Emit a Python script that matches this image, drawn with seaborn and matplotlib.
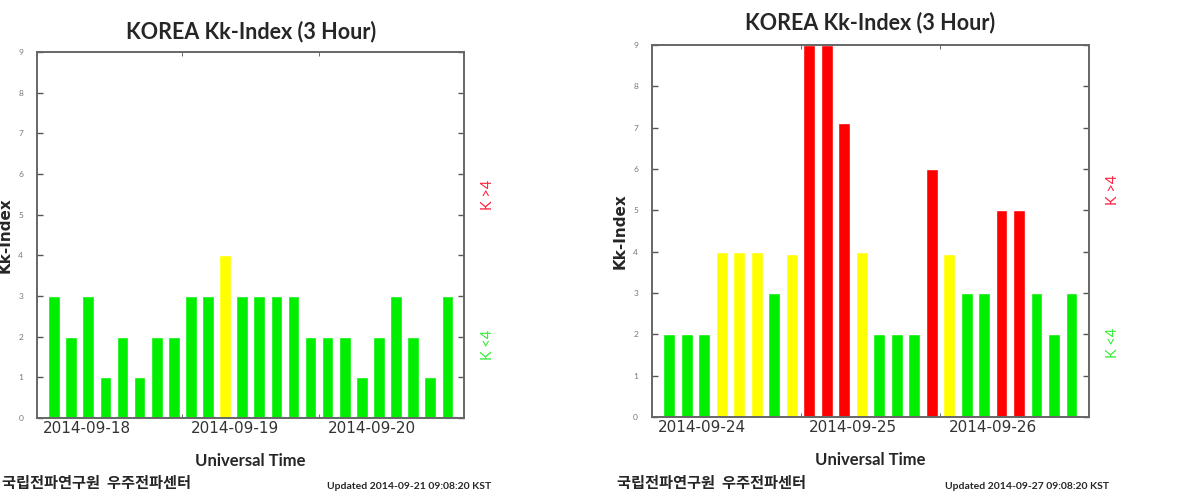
import numpy as np
import pandas as pd
import seaborn as sns
import matplotlib.pyplot as plt

# Kk-index values, 8 three-hour slots per day
kk_sep18_20 = [3, 2, 3, 1, 2, 1, 2, 2,
               3, 3, 4, 3, 3, 3, 3, 2,
               2, 2, 1, 2, 3, 2, 1, 3]
kk_sep24_26 = [2, 2, 2, 4, 4, 4, 3, 3.95,
               9, 9, 7.1, 4, 2, 2, 2, 6,
               3.95, 3, 3, 5, 5, 3, 2, 3]
days_left = ['2014-09-18', '2014-09-19', '2014-09-20']
days_right = ['2014-09-24', '2014-09-25', '2014-09-26']
updated_left = 'Updated 2014-09-21 09:08:20 KST'
updated_right = 'Updated 2014-09-27 09:08:20 KST'
org_name = '국립전파연구원  우주전파센터'

level_colors = {'low': '#00ee00', 'mid': '#ffff00', 'high': '#ff0000'}

sns.set_style('white')
plt.rcParams['font.family'] = ['Lato', 'DejaVu Sans']


def level(v):
    if v >= 4.5:
        return 'high'
    if v >= 3.5:
        return 'mid'
    return 'low'


def draw_panel(fig, rect, values, days, updated, title_y, org_x, upd_x):
    ax = fig.add_axes(rect)
    df = pd.DataFrame({'slot': np.arange(len(values)), 'kk': values})
    df['level'] = df['kk'].apply(level)
    sns.barplot(data=df, x='slot', y='kk', hue='level', palette=level_colors,
                dodge=False, width=0.68, legend=False, saturation=1, ax=ax)
    ax.set_xlim(-1, 24)
    ax.set_ylim(0, 9)

    # y ticks on both sides, tiny grey labels on the left
    ax.set_yticks(range(10))
    ax.tick_params(axis='y', direction='in', length=4, width=1, color='#555555',
                   left=True, right=True, labelsize=6, labelcolor='#777777', pad=10)
    # date labels at the start of each day, day boundaries as small ticks
    ax.set_xticks([-0.65, 8, 16])
    ax.set_xticklabels(days, ha='left', fontsize=11, color='#333333',
                       family='DejaVu Sans')
    ax.tick_params(axis='x', length=0, pad=2)
    ax.set_xticks([7.5, 15.5], minor=True)
    ax.tick_params(axis='x', which='minor', direction='in', length=3,
                   top=True, bottom=True, color='#555555')
    for s in ax.spines.values():
        s.set_color('#666666')
        s.set_linewidth(1.4)

    ax.set_xlabel('Universal Time', fontsize=12, fontweight='bold', labelpad=12)
    ax.set_ylabel('Kk-Index', fontsize=11, fontweight='bold',
                  family='DejaVu Sans', labelpad=4)
    ax.set_title('KOREA Kk-Index (3 Hour)', fontsize=15.5, fontweight='bold',
                 y=title_y)

    ax.text(1.055, 0.61, 'K >4', transform=ax.transAxes, rotation=90,
            color='#ff2040', fontsize=10.5, ha='center', va='center')
    ax.text(1.055, 0.20, 'K <4', transform=ax.transAxes, rotation=90,
            color='#33ee33', fontsize=10.5, ha='center', va='center')

    fig.text(org_x, 0.032, org_name, family=['Noto Sans CJK KR', 'DejaVu Sans'],
             fontsize=11, fontweight='bold', ha='left', va='center')
    fig.text(upd_x, 0.026, updated, fontsize=7.5,
             fontweight='bold', ha='center', va='center')
    return ax


fig = plt.figure(figsize=(11.94, 4.99), dpi=100)
draw_panel(fig, [0.031, 0.162, 0.358, 0.734], kk_sep18_20, days_left,
           updated_left, 1.015, 0.002, 0.343)
draw_panel(fig, [0.546, 0.164, 0.366, 0.746], kk_sep24_26, days_right,
           updated_right, 1.02, 0.517, 0.860)

fig.savefig('out.png', dpi=100, facecolor='white')
